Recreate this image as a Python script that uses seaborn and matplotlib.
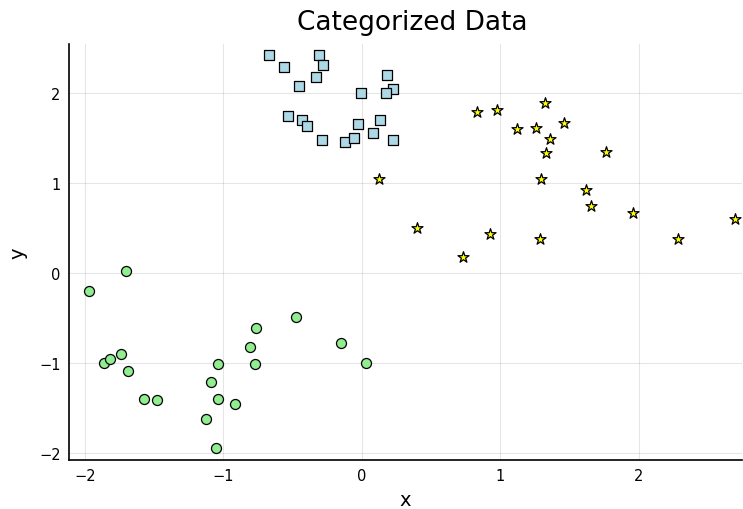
import matplotlib
matplotlib.use("Agg")
import matplotlib.pyplot as plt
import seaborn as sns
import pandas as pd

circle_x = [-1.971, -1.702, -1.866, -1.817, -1.740, -1.687, -1.574, -1.478, -1.040, -1.092,
            -1.040, -1.129, -1.052, -0.915, -0.768, -0.811, -0.770, -0.474, -0.149, 0.029]
circle_y = [-0.197, 0.026, -1.003, -0.956, -0.897, -1.092, -1.403, -1.414, -1.014, -1.211,
            -1.397, -1.619, -1.941, -1.459, -0.614, -0.822, -1.014, -0.492, -0.781, -1.003]

square_x = [-0.669, -0.561, -0.310, -0.282, -0.330, -0.453, 0.183, 0.224, -0.005, 0.173,
            -0.534, -0.433, -0.395, -0.029, 0.128, 0.077, -0.291, -0.121, -0.056, 0.224]
square_y = [2.419, 2.289, 2.426, 2.311, 2.178, 2.074, 2.203, 2.044, 1.997, 1.997,
            1.748, 1.703, 1.633, 1.652, 1.700, 1.556, 1.478, 1.459, 1.503, 1.478]

star_x = [0.832, 0.975, 1.323, 1.119, 1.256, 1.458, 1.360, 1.329, 1.764, 0.125,
          1.295, 1.615, 1.653, 1.957, 2.693, 0.397, 0.926, 1.287, 2.279, 0.727]
star_y = [1.789, 1.814, 1.889, 1.600, 1.614, 1.667, 1.489, 1.330, 1.348, 1.041,
          1.044, 0.926, 0.744, 0.663, 0.597, 0.503, 0.430, 0.374, 0.381, 0.178]

sns.set_style("white")
plt.rcParams['font.family'] = ['DejaVu Sans']
plt.rcParams['text.color'] = 'black'

fig = plt.figure(figsize=(7.43, 5.10), dpi=100)
ax = fig.add_axes([0.0929, 0.0961, 0.9058, 0.8157])

groups = [
    (circle_x, circle_y, "o", "lightgreen", 52),
    (square_x, square_y, "s", "lightblue", 52),
    (star_x, star_y, "*", "yellow", 70),
]
for gx, gy, m, c, s in groups:
    df = pd.DataFrame({"x": gx, "y": gy})
    sns.scatterplot(data=df, x="x", y="y", marker=m, color=c, s=s,
                    edgecolor="black", linewidth=0.9, ax=ax, legend=False, zorder=3)

ax.set_xlim(-2.115, 2.744)
ax.set_ylim(-2.078, 2.544)
ax.set_xticks([-2, -1, 0, 1, 2])
ax.set_yticks([-2, -1, 0, 1, 2])
ax.grid(True, color="black", alpha=0.1, linewidth=0.8)
for side in ["top", "right"]:
    ax.spines[side].set_visible(False)
for side in ["left", "bottom"]:
    ax.spines[side].set_color("black")
    ax.spines[side].set_linewidth(1.2)
ax.tick_params(direction="in", length=4, width=1, labelsize=10.5, colors="black", pad=6)
ax.set_xlabel("x", fontsize=14, color="black")
ax.set_ylabel("y", fontsize=14, color="black")
ax.xaxis.set_label_coords(0.5, -0.072)
ax.yaxis.set_label_coords(-0.062, 0.5)
ax.set_title("Categorized Data", fontsize=19, color="black", pad=11, x=0.51)

fig.savefig("out.png", dpi=100)
